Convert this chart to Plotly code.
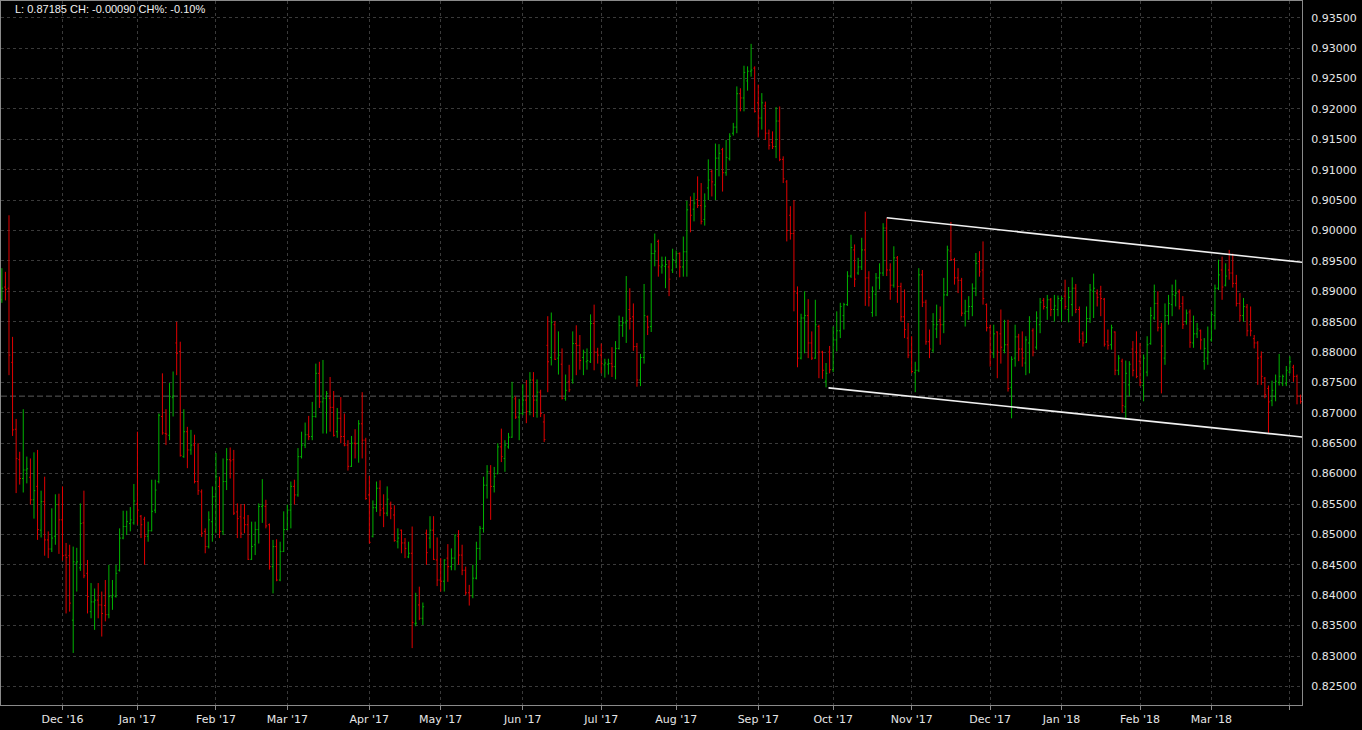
import pandas as pd
import plotly.graph_objects as go

# ---------------- calendar (trading days shown on the chart) ----------------
holidays = ["2016-12-26", "2017-12-25", "2018-01-01"]
dates = [d for d in pd.bdate_range("2016-11-08", "2018-04-05")
         if d.strftime("%Y-%m-%d") not in holidays]

month_labels = ["Dec '16", "Jan '17", "Feb '17", "Mar '17", "Apr '17", "May '17",
                "Jun '17", "Jul '17", "Aug '17", "Sep '17", "Oct '17", "Nov '17",
                "Dec '17", "Jan '18", "Feb '18", "Mar '18", ""]

# ---------------- OHLC values (one row per month) ----------------
open_ = [
    .8886, .8907, .8905, .8783, .8673, .8623, .8592, .8606, .8594, .8557, .8579, .8507, .8554, .8491, .8476, .8497, .8549,
    .8524, .8466, .8465, .8359, .8453, .8445, .8519, .8436, .8373, .8389, .8392, .8384, .8383, .8368, .8397, .8398, .8441, .8494, .8513, .8518, .8519,
    .8550, .8530, .8525, .8497, .8506, .8540, .8587, .8694, .8666, .8663, .8725, .8815, .8801, .8628, .8669, .8639, .8647, .8587, .8570, .8505, .8480, .8521,
    .8562, .8579, .8505, .8587, .8623, .8623, .8537, .8529, .8527, .8516, .8459, .8483, .8508, .8546, .8546, .8516, .8447, .8480, .8425, .8472,
    .8508, .8540, .8579, .8565, .8628, .8647, .8664, .8661, .8694, .8765, .8718, .8724, .8724, .8709, .8669, .8691, .8661, .8647, .8612, .8650, .8650, .8682, .8655,
    .8565, .8497, .8544, .8576, .8543, .8535, .8550, .8532, .8488, .8507, .8486, .8463, .8469, .8353, .8384, .8362, .8502, .8494, .8507, .8458,
    .8425, .8423, .8461, .8447, .8461, .8497, .8466, .8441, .8404, .8399, .8428, .8477, .8510, .8581, .8603, .8579, .8600, .8644, .8625, .8644, .8660, .8723, .8693,
    .8699, .8721, .8702, .8754, .8721, .8734, .8685, .8811, .8791, .8845, .8790, .8780, .8724, .8751, .8754, .8814, .8811, .8791, .8784, .8784, .8847, .8800,
    .8795, .8779, .8780, .8781, .8776, .8806, .8844, .8848, .8870, .8858, .8809, .8754, .8791, .8858, .8842, .8962, .8982, .8940, .8941, .8940, .8935,
    .8948, .8962, .8940, .8965, .9042, .9035, .9051, .9041, .9018, .9070, .9097, .9075, .9119, .9133, .9095, .9118, .9160, .9170, .9225, .9218, .9246, .9262, .9267,
    .9210, .9185, .9205, .9160, .9145, .9138, .9180, .9117, .9080, .9025, .8995, .8897, .8790, .8856, .8860, .8815, .8790, .8842, .8800, .8752, .8800,
    .8771, .8820, .8835, .8860, .8878, .8925, .8968, .8930, .8940, .8968, .8922, .8865, .8895, .8922, .8930, .9004, .8935, .8910, .8955, .8908, .8858, .8823,
    .8800, .8766, .8770, .8927, .8882, .8817, .8803, .8838, .8853, .8845, .8894, .8966, .8952, .8922, .8918, .8864, .8867, .8875, .8905, .8949, .8935, .8878,
    .8840, .8797, .8833, .8830, .8803, .8812, .8742, .8790, .8825, .8805, .8782, .8815, .8835, .8808, .8845, .8885, .8873, .8886, .8870, .8870,
    .8885, .8892, .8870, .8878, .8905, .8870, .8830, .8816, .8855, .8900, .8897, .8895, .8887, .8817, .8812, .8833, .8770, .8785, .8710, .8746, .8805, .8800,
    .8785, .8745, .8767, .8814, .8856, .8880, .8840, .8790, .8860, .8878, .8893, .8899, .8880, .8850, .8866, .8815, .8830, .8835, .8785, .8790,
    .8820, .8860, .8905, .8935, .8910, .8935, .8930, .8913, .8880, .8860, .8874, .8845, .8822, .8815, .8792, .8757, .8740, .8720, .8727, .8750, .8748, .8748,
    .8767, .8775, .8760, .87275,
]
high = [
    .8938, .8932, .9025, .8825, .8690, .8636, .8706, .8628, .8625, .8635, .8639, .8572, .8595, .8505, .8543, .8566, .8567,
    .8579, .8486, .8483, .8480, .8478, .8551, .8572, .8458, .8420, .8411, .8420, .8406, .8425, .8450, .8425, .8450, .8510, .8539, .8539, .8545, .8583,
    .8669, .8532, .8529, .8521, .8590, .8590, .8699, .8765, .8706, .8749, .8768, .8850, .8817, .8706, .8677, .8672, .8664, .8650, .8574, .8510, .8538, .8579,
    .8634, .8595, .8625, .8642, .8643, .8639, .8551, .8550, .8550, .8532, .8521, .8521, .8551, .8591, .8557, .8518, .8491, .8492, .8488, .8538,
    .8549, .8587, .8590, .8642, .8669, .8684, .8695, .8718, .8781, .8784, .8787, .8736, .8759, .8736, .8708, .8726, .8699, .8655, .8662, .8673, .8688, .8734, .8659,
    .8596, .8556, .8587, .8589, .8566, .8579, .8554, .8548, .8510, .8508, .8494, .8488, .8513, .8404, .8414, .8388, .8508, .8530, .8530, .8495,
    .8461, .8459, .8484, .8477, .8500, .8507, .8483, .8447, .8417, .8450, .8488, .8514, .8595, .8614, .8614, .8611, .8650, .8674, .8655, .8667, .8751, .8727, .8723,
    .8747, .8754, .8767, .8767, .8755, .8738, .8698, .8859, .8865, .8851, .8834, .8806, .8763, .8779, .8834, .8844, .8828, .8804, .8806, .8862, .8878, .8807,
    .8814, .8789, .8789, .8808, .8818, .8860, .8858, .8925, .8905, .8880, .8815, .8797, .8912, .8860, .8979, .8995, .8985, .8957, .8957, .8951, .8970,
    .8967, .8964, .8990, .9049, .9056, .9062, .9089, .9078, .9061, .9117, .9100, .9143, .9142, .9136, .9149, .9160, .9177, .9237, .9234, .9271, .9270, .9307, .9270,
    .9240, .9226, .9212, .9166, .9163, .9203, .9204, .9122, .9083, .9040, .9050, .8908, .8863, .8900, .8887, .8834, .8886, .8845, .8802, .8782, .8810,
    .8842, .8867, .8881, .8881, .8933, .8993, .8977, .8955, .8988, .9031, .8933, .8908, .8930, .8946, .9012, .9020, .8946, .8974, .8958, .8914, .8903, .8848,
    .8826, .8784, .8938, .8935, .8886, .8837, .8864, .8878, .8875, .8922, .8975, .9014, .8955, .8938, .8922, .8886, .8892, .8913, .8963, .8966, .8982, .8880,
    .8845, .8845, .8834, .8870, .8853, .8853, .8793, .8845, .8830, .8834, .8826, .8859, .8839, .8867, .8889, .8889, .8894, .8889, .8894, .8893,
    .8892, .8919, .8907, .8923, .8912, .8875, .8834, .8875, .8912, .8929, .8903, .8909, .8889, .8837, .8845, .8834, .8795, .8789, .8786, .8785, .8818, .8834,
    .8815, .8796, .8826, .8874, .8911, .8900, .8848, .8880, .8894, .8911, .8919, .8903, .8892, .8870, .8870, .8860, .8848, .8837, .8823, .8842,
    .8867, .8911, .8952, .8957, .8946, .8968, .8962, .8927, .8897, .8889, .8879, .8875, .8828, .8818, .8801, .8759, .8745, .8753, .8763, .8797, .8763, .8777,
    .8793, .8779, .8763, .8730,
]
low = [
    .8881, .8885, .8762, .8662, .8568, .8582, .8569, .8584, .8549, .8526, .8491, .8495, .8465, .8461, .8471, .8483, .8468,
    .8457, .8370, .8373, .8305, .8406, .8440, .8428, .8370, .8362, .8343, .8362, .8332, .8357, .8362, .8376, .8396, .8439, .8492, .8499, .8505, .8516,
    .8516, .8494, .8450, .8488, .8505, .8535, .8584, .8664, .8647, .8655, .8694, .8762, .8628, .8626, .8609, .8631, .8584, .8565, .8496, .8469, .8477, .8488,
    .8502, .8494, .8499, .8573, .8592, .8532, .8494, .8494, .8502, .8458, .8458, .8466, .8485, .8519, .8510, .8442, .8403, .8423, .8423, .8471,
    .8507, .8510, .8549, .8562, .8625, .8642, .8655, .8655, .8692, .8708, .8666, .8666, .8669, .8661, .8659, .8650, .8645, .8605, .8611, .8625, .8618, .8625, .8557,
    .8485, .8495, .8537, .8530, .8512, .8530, .8525, .8488, .8477, .8469, .8461, .8461, .8313, .8349, .8359, .8351, .8450, .8477, .8458, .8415,
    .8406, .8406, .8422, .8441, .8441, .8450, .8433, .8400, .8383, .8395, .8426, .8458, .8503, .8559, .8524, .8569, .8599, .8619, .8603, .8641, .8659, .8690, .8655,
    .8696, .8683, .8696, .8693, .8692, .8693, .8652, .8734, .8778, .8787, .8763, .8722, .8720, .8734, .8748, .8762, .8771, .8762, .8771, .8782, .8770, .8781,
    .8765, .8758, .8763, .8759, .8755, .8804, .8825, .8815, .8837, .8802, .8743, .8744, .8781, .8828, .8833, .8941, .8924, .8929, .8905, .8892, .8930,
    .8938, .8923, .8924, .8924, .8997, .9015, .9037, .9010, .9008, .9050, .9056, .9050, .9089, .9064, .9090, .9115, .9156, .9160, .9196, .9196, .9230, .9253, .9194,
    .9153, .9166, .9149, .9133, .9134, .9119, .9114, .9078, .8982, .8985, .8867, .8775, .8788, .8798, .8790, .8787, .8789, .8757, .8756, .8742, .8765,
    .8767, .8801, .8823, .8837, .8876, .8922, .8907, .8927, .8935, .8876, .8875, .8858, .8859, .8903, .8925, .8925, .8886, .8906, .8881, .8850, .8823, .8790,
    .8765, .8734, .8767, .8874, .8812, .8790, .8799, .8823, .8812, .8831, .8892, .8950, .8911, .8897, .8859, .8842, .8853, .8859, .8892, .8924, .8878, .8834,
    .8776, .8790, .8757, .8781, .8798, .8735, .8691, .8776, .8785, .8776, .8762, .8765, .8793, .8804, .8831, .8870, .8853, .8859, .8850, .8859,
    .8850, .8870, .8849, .8859, .8864, .8815, .8809, .8815, .8848, .8856, .8875, .8859, .8809, .8804, .8804, .8762, .8762, .8700, .8689, .8727, .8760, .8757,
    .8744, .8719, .8760, .8812, .8853, .8834, .8732, .8779, .8845, .8859, .8875, .8870, .8838, .8845, .8807, .8807, .8823, .8804, .8771, .8779,
    .8817, .8837, .8902, .8886, .8908, .8919, .8906, .8875, .8850, .8850, .8826, .8826, .8806, .8746, .8746, .8724, .8667, .8711, .8719, .8745, .8744, .8744,
    .8765, .8751, .8714, .8715,
]
close = [
    .8905, .8903, .8795, .8672, .8625, .8592, .8606, .8608, .8557, .8572, .8508, .8554, .8491, .8476, .8494, .8549, .8524,
    .8465, .8462, .8387, .8455, .8455, .8518, .8432, .8398, .8389, .8392, .8384, .8370, .8368, .8398, .8400, .8436, .8494, .8513, .8521, .8524, .8555,
    .8540, .8516, .8497, .8506, .8538, .8573, .8696, .8667, .8665, .8727, .8728, .8798, .8630, .8669, .8639, .8647, .8587, .8572, .8502, .8480, .8524, .8562,
    .8595, .8505, .8587, .8623, .8621, .8535, .8526, .8502, .8516, .8459, .8480, .8508, .8546, .8548, .8514, .8447, .8480, .8425, .8472, .8508,
    .8540, .8579, .8565, .8628, .8647, .8664, .8661, .8694, .8765, .8718, .8724, .8732, .8709, .8663, .8691, .8661, .8647, .8612, .8650, .8649, .8682, .8655, .8559,
    .8487, .8544, .8576, .8540, .8535, .8558, .8543, .8490, .8494, .8486, .8477, .8469, .8355, .8354, .8362, .8381, .8470, .8507, .8459, .8425,
    .8423, .8458, .8447, .8461, .8499, .8466, .8441, .8404, .8399, .8428, .8477, .8510, .8581, .8603, .8579, .8595, .8644, .8628, .8647, .8660, .8726, .8693, .8699,
    .8721, .8702, .8754, .8721, .8734, .8699, .8656, .8784, .8849, .8788, .8795, .8724, .8737, .8738, .8814, .8811, .8786, .8800, .8786, .8847, .8800, .8795,
    .8781, .8782, .8781, .8776, .8806, .8844, .8848, .8852, .8855, .8809, .8754, .8791, .8860, .8841, .8962, .8966, .8942, .8943, .8944, .8920, .8952,
    .8962, .8940, .8965, .9034, .9025, .9045, .9041, .9015, .9040, .9083, .9080, .9119, .9127, .9095, .9120, .9155, .9170, .9225, .9218, .9260, .9262, .9264, .9196,
    .9185, .9210, .9160, .9140, .9138, .9180, .9117, .9085, .9000, .8995, .8900, .8790, .8856, .8860, .8815, .8790, .8845, .8800, .8770, .8765, .8771,
    .8820, .8835, .8875, .8878, .8925, .8972, .8920, .8940, .8968, .8922, .8890, .8900, .8922, .8930, .9004, .8935, .8910, .8955, .8908, .8858, .8837, .8795,
    .8768, .8770, .8927, .8882, .8817, .8805, .8845, .8845, .8845, .8894, .8968, .8952, .8922, .8918, .8864, .8867, .8875, .8905, .8946, .8932, .8888, .8840,
    .8800, .8830, .8800, .8808, .8812, .8740, .8788, .8825, .8805, .8790, .8820, .8850, .8800, .8856, .8882, .8875, .8886, .8870, .8876, .8888,
    .8888, .8875, .8890, .8905, .8870, .8820, .8815, .8855, .8902, .8905, .8890, .8888, .8813, .8811, .8840, .8770, .8790, .8712, .8765, .8780, .8770, .8760,
    .8750, .8790, .8812, .8860, .8880, .8840, .8810, .8860, .8880, .8895, .8897, .8875, .8845, .8864, .8816, .8830, .8838, .8820, .8806, .8800,
    .8862, .8905, .8927, .8907, .8925, .8930, .8913, .8880, .8860, .8875, .8835, .8835, .8815, .8790, .8760, .8730, .8718, .8737, .8752, .8760, .8760, .8770,
    .8784, .8760, .87275, .87185,
]

prev_close = 0.87275
# channel lines: (bar index, price) end points
upper_x = [248, 366]
upper_y = [0.9021, 0.89467]
lower_x = [231.7, 366]
lower_y = [0.8741, 0.86594]

# ---------------- figure ----------------
n = min(len(dates), len(open_), len(high), len(low), len(close))
idx = list(range(n))

tickvals, ticktext = [], []
prev = None
for i, d in enumerate(dates[:n]):
    key = (d.year, d.month)
    if prev is not None and key != prev and len(tickvals) < len(month_labels):
        tickvals.append(i)
        ticktext.append(month_labels[len(tickvals) - 1])
    prev = key

fig = go.Figure()
fig.add_trace(go.Ohlc(
    x=idx, open=open_[:n], high=high[:n], low=low[:n], close=close[:n],
    increasing=dict(line=dict(color="#00b400", width=1)),
    decreasing=dict(line=dict(color="#e00000", width=1)),
    tickwidth=0.35, hoverinfo="skip",
))
for xs, ys in ((upper_x, upper_y), (lower_x, lower_y)):
    fig.add_trace(go.Scatter(x=xs, y=ys, mode="lines",
                             line=dict(color="#f0f0f0", width=1.6), hoverinfo="skip"))

fig.add_shape(type="line", xref="paper", x0=0, x1=1, yref="y", y0=prev_close, y1=prev_close,
              line=dict(color="#5c5c5c", width=1, dash="6px,3px"), layer="below")

fig.add_annotation(text="L: 0.87185 CH: -0.00090 CH%: -0.10%", xref="paper", yref="paper",
                   x=0.0092, y=0.9886, xanchor="left", yanchor="middle", showarrow=False,
                   font=dict(family="Liberation Sans, Arial, sans-serif", size=11, color="#f0f0f0"))

grid = dict(showgrid=True, gridcolor="#3a3a3a", gridwidth=1, griddash="3px,3px",
            showline=True, linecolor="#8a8a8a", linewidth=1, mirror=True, zeroline=False,
            fixedrange=True)
tick_font = dict(family="DejaVu Sans, Verdana, sans-serif", size=11, color="#e6e6e6")

fig.update_layout(
    width=1362, height=730,
    margin=dict(l=1, r=60, t=1, b=25),
    paper_bgcolor="#000000", plot_bgcolor="#000000",
    showlegend=False,
    font=dict(family="Liberation Sans, Arial, sans-serif", size=11, color="#e6e6e6"),
    xaxis=dict(range=[-0.24, 364.4], tickmode="array", tickvals=tickvals, ticktext=ticktext,
               ticks="outside", ticklen=4, tickcolor="#8a8a8a", tickfont=tick_font,
               rangeslider=dict(visible=False), **grid),
    yaxis=dict(side="right", range=[0.82194, 0.93775], tick0=0.825, dtick=0.005,
               tickformat=".5f", ticks="", ticklabelstandoff=6, tickfont=tick_font, **grid),
)

fig.write_html("out.html", config={"displayModeBar": False},
               post_script="document.body.style.margin='0';document.body.style.overflow='hidden';")
